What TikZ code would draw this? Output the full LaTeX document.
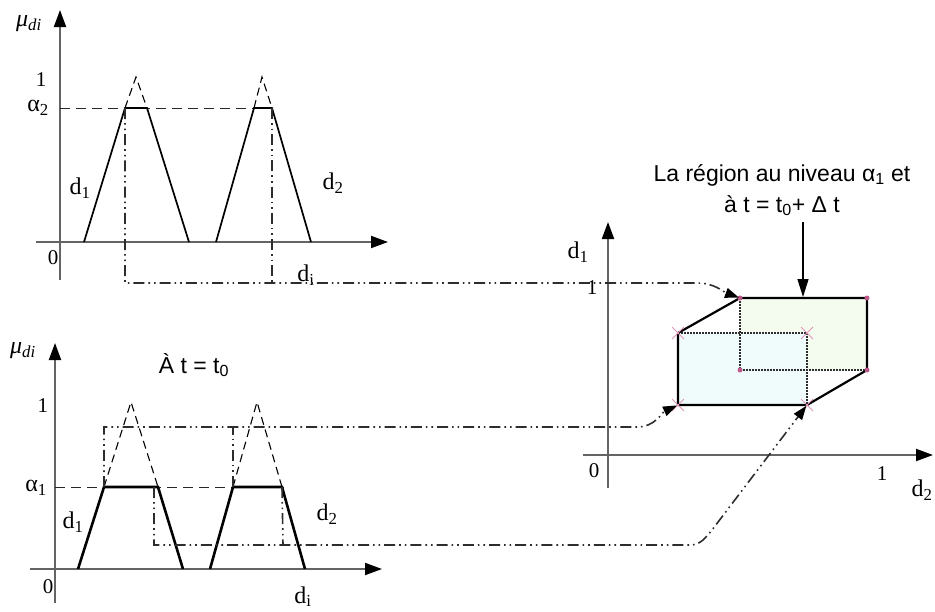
\documentclass[tikz,border=0pt]{standalone}
\usepackage{fontspec}
\setmainfont{Liberation Serif}
\setsansfont{Liberation Sans}
\usetikzlibrary{arrows.meta,calc}
\definecolor{axisgray}{RGB}{100,100,100}
\definecolor{dashgray}{RGB}{45,45,45}
\definecolor{fillgreen}{RGB}{244,252,240}
\definecolor{fillcyan}{RGB}{240,252,252}
\definecolor{markpink}{RGB}{190,90,140}
\definecolor{crosspink}{RGB}{225,150,185}
\tikzset{
  axis/.style={draw=axisgray,line width=2pt,-{Triangle[length=17pt,width=12pt,color=black]}},
  trap/.style={draw=black,line width=1.7pt,line join=miter},
  traptb/.style={draw=black,line width=2.6pt,line join=miter},
  dashtip/.style={draw=black,line width=1.1pt,dash pattern=on 8pt off 5pt},
  alphaline/.style={draw=black!85,line width=1pt,dash pattern=on 10pt off 6pt},
  ddot/.style={draw=dashgray,line width=1.6pt,dash pattern=on 11pt off 4pt on 1.6pt off 4pt on 1.6pt off 4pt},
  conarrow/.style={ddot,-{Triangle[length=14pt,width=10pt,color=black,sep=1pt]}},
  hull/.style={draw=black,line width=2.2pt,line join=round},
  dotl/.style={draw=dashgray,line width=1.2pt,dash pattern=on 1.5pt off 1.5pt},
  serlab/.style={font=\fontsize{24}{26}\selectfont,inner sep=0pt},
  numlab/.style={font=\fontsize{21}{24}\selectfont,inner sep=0pt},
  sanslab/.style={font=\sffamily\fontsize{23}{27}\selectfont,inner sep=0pt},
  pdot/.style={circle,fill=markpink,inner sep=0pt,minimum size=5pt},
}
\begin{document}
\begin{tikzpicture}[x=1pt,y=-1pt]
\useasboundingbox (0,0) rectangle (935,611);

% ===== Top chart =====
\draw[axis] (60,280) -- (60,10);
\draw[axis] (36,242) -- (388,242);
\node[serlab] (mu1) at (29,24) {\textit{μ}\textsubscript{\textit{di}}};
\node[numlab] (one1) at (41,80) {1};
\node[serlab] (al2) at (38,108) {α\textsubscript{2}};
\node[numlab] (zero1) at (53,258) {0};
\node[serlab] (d1a) at (80,188) {d\textsubscript{1}};
\node[serlab] (d2a) at (333,183) {d\textsubscript{2}};
\node[serlab] (dia) at (306,275) {d\textsubscript{i}};
\draw[alphaline] (60,108) -- (273,108);
\coordinate (A1L) at (125,108); \coordinate (A1R) at (147,108);
\coordinate (A2L) at (254,108); \coordinate (A2R) at (272,108);
\draw[trap] (84,242) -- (A1L) -- (A1R) -- (189,242);
\draw[dashtip] (A1L) -- (136,77) -- (A1R);
\draw[trap] (216,242) -- (A2L) -- (A2R) -- (311,242);
\draw[dashtip] (A2L) -- (262,77) -- (A2R);

% ===== Bottom chart =====
\draw[axis] (55,603) -- (55,343);
\draw[axis] (30,569) -- (382,569);
\node[serlab] (mu2) at (23,351) {\textit{μ}\textsubscript{\textit{di}}};
\node[sanslab] (tzero) at (194,365) {À t = t\textsubscript{0}};
\node[numlab] (one2) at (43,406) {1};
\node[serlab] (al1) at (36,488) {α\textsubscript{1}};
\node[numlab] (zero2) at (48,587) {0};
\node[serlab] (d1b) at (73,522) {d\textsubscript{1}};
\node[serlab] (d2b) at (327,514) {d\textsubscript{2}};
\node[serlab,anchor=base] (dib) at (303,603) {d\textsubscript{i}};
\draw[alphaline] (55,487) -- (284,487);
\coordinate (B1L) at (104,487); \coordinate (B1R) at (158,487);
\coordinate (B2L) at (233,487); \coordinate (B2R) at (282,487);
\draw[dashtip] (B1L) -- (131,402) -- (B1R);
\draw[dashtip] (B2L) -- (257,402) -- (B2R);
\draw[traptb] (78,569) -- (B1L) -- (B1R) -- (183,569);
\draw[traptb] (210,569) -- (B2L) -- (B2R) -- (305,569);

% ===== Right chart =====
\draw[axis] (608,488) -- (608,222);
\draw[axis] (583,455) -- (933,455);
\node[serlab] (d1c) at (578,252) {d\textsubscript{1}};
\node[numlab] (onec) at (592,288) {1};
\node[numlab] (zeroc) at (594,471) {0};
\node[numlab] (oner) at (882,474) {1};
\node[serlab] (d2c) at (922,490) {d\textsubscript{2}};

% regions
\coordinate (U1) at (740,298); \coordinate (U2) at (867,298);
\coordinate (U3) at (867,370); \coordinate (U4) at (740,370);
\coordinate (L1) at (678,333); \coordinate (L2) at (807,333);
\coordinate (L3) at (807,405); \coordinate (L4) at (678,405);
\fill[fillgreen] (U1) rectangle (U3);
\fill[fillcyan] (L1) rectangle (L3);
\draw[dotl] (U1) -- (U2);
\draw[dotl] (U1) -- (U4) -- (U3);
\draw[dotl] (L1) -- (L2) -- (L3);
\draw[hull] (U1) -- (U2) -- (U3) -- (L3) -- (L4) -- (L1) -- cycle;
\foreach \p in {U1,U2,U3,U4} \node[pdot] at (\p) {};
\foreach \p in {L1,L2,L3,L4}
  \draw[crosspink,line width=1pt] ($(\p)+(-6,-6)$) -- ($(\p)+(6,6)$) ($(\p)+(-6,6)$) -- ($(\p)+(6,-6)$);

% annotation
\node[align=center,inner sep=0pt,font=\sffamily\fontsize{23}{31}\selectfont] (note) at (782,190)
  {La région au niveau α\textsubscript{1} et\\ à t = t\textsubscript{0}+ Δ t};
\coordinate (noteS) at (803,222);
\draw[line width=1.4pt,-{Triangle[length=18pt,width=11pt]}] (noteS) -- (803,297);

% ===== connectors =====
\draw[ddot] (A2R) -- (272,283);
\draw[conarrow] (A1L) -- (125,283) -- (697,283) to[out=0,in=160] (U1);
\draw[ddot] (B2L) -- (233,427);
\draw[conarrow] (B1L) -- (104,427) -- (637,427) to[out=0,in=205] (L4);
\draw[ddot] (B2R) -- (283,545);
\draw[conarrow] (154,487) -- (154,545) -- (690,545) to[out=0,in=230] (712,530) -- (L3);
\end{tikzpicture}
\end{document}
